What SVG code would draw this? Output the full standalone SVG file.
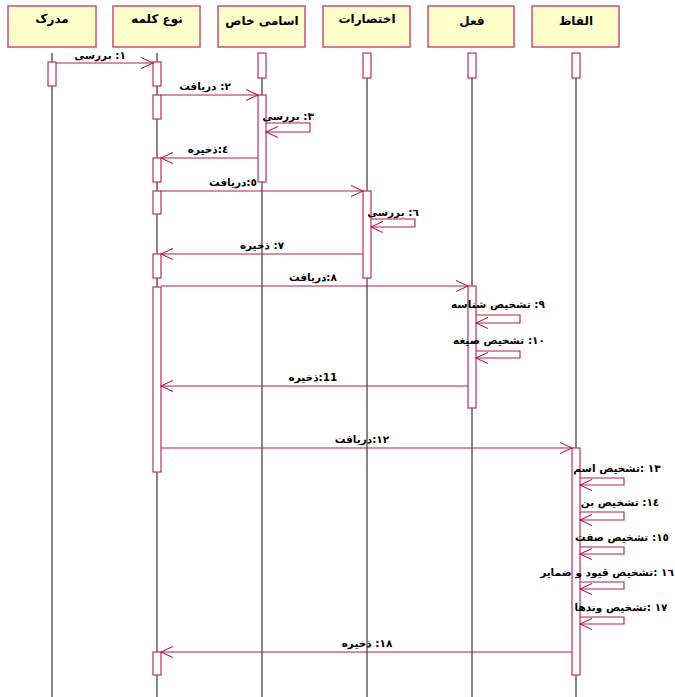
<svg xmlns="http://www.w3.org/2000/svg" width="675" height="697" viewBox="0 0 675 697">
<style>
.hdr{fill:#FFFFCC;stroke:#C8507A;stroke-width:1.5}
.act{fill:#FFFFFF;stroke:#B8305E;stroke-width:1.2}
.life{stroke:#111;stroke-width:1}
.msg{stroke:#B01E50;stroke-width:1.1;fill:none}
text{font-family:"DejaVu Sans",sans-serif;font-weight:bold;fill:#000;direction:rtl;unicode-bidi:embed;text-anchor:middle}
.ht{font-size:12px}
.lt{font-size:10.5px}
</style>
<defs>
<marker id="arr" markerUnits="userSpaceOnUse" markerWidth="14" markerHeight="12" refX="12" refY="6" orient="auto">
<path d="M0,0.5 L12,6 L0,11.5" fill="none" stroke="#B01E50" stroke-width="1.1"/>
</marker>
</defs>
<rect width="675" height="697" fill="#fff"/>
<g id="lifelines">
<line class="life" x1="52" y1="53" x2="52" y2="697"/>
<line class="life" x1="157" y1="53" x2="157" y2="697"/>
<line class="life" x1="262" y1="53" x2="262" y2="697"/>
<line class="life" x1="367" y1="53" x2="367" y2="697"/>
<line class="life" x1="472" y1="53" x2="472" y2="697"/>
<line class="life" x1="576" y1="53" x2="576" y2="697"/>
</g>
<g id="n-modrak">
<rect class="hdr" x="8" y="6" width="88" height="41"/>
<text class="ht" x="52" y="23">مدرک</text>
<rect class="act" x="48" y="62" width="8" height="24"/>
</g>
<g id="n-noe-kalame">
<rect class="hdr" x="113" y="6" width="87" height="41"/>
<text class="ht" x="157" y="23">نوع کلمه</text>
<rect class="act" x="153" y="62" width="8" height="24"/>
<rect class="act" x="153" y="95" width="8" height="24"/>
<rect class="act" x="153" y="158" width="8" height="24"/>
<rect class="act" x="153" y="191" width="8" height="23"/>
<rect class="act" x="153" y="254" width="8" height="24"/>
<rect class="act" x="153" y="287" width="8" height="185"/>
<rect class="act" x="153" y="652" width="8" height="23"/>
</g>
<g id="n-asami-khas">
<rect class="hdr" x="218" y="6" width="87" height="41"/>
<text class="ht" x="262" y="25">اسامی خاص</text>
<rect class="act" x="258" y="53" width="8" height="25"/>
<rect class="act" x="258" y="95" width="8" height="87"/>
</g>
<g id="n-ekhtesarat">
<rect class="hdr" x="323" y="6" width="87" height="41"/>
<text class="ht" x="367" y="23">اختصارات</text>
<rect class="act" x="363" y="53" width="8" height="25"/>
<rect class="act" x="363" y="191" width="8" height="87"/>
</g>
<g id="n-feel">
<rect class="hdr" x="428" y="6" width="86" height="41"/>
<text class="ht" x="472" y="25">فعل</text>
<rect class="act" x="468" y="53" width="8" height="25"/>
<rect class="act" x="468" y="286" width="8" height="122"/>
</g>
<g id="n-alfaz">
<rect class="hdr" x="532" y="6" width="87" height="41"/>
<text class="ht" x="576" y="25">الفاظ</text>
<rect class="act" x="572" y="53" width="8" height="25"/>
<rect class="act" x="572" y="448" width="8" height="227"/>
</g>
<g id="connectors">
<line class="msg" x1="56" y1="63" x2="153" y2="63" marker-end="url(#arr)"/>
<line class="msg" x1="161" y1="95" x2="258" y2="95" marker-end="url(#arr)"/>
<path class="msg" d="M266,123 H310 V132 H266" marker-end="url(#arr)"/>
<line class="msg" x1="258" y1="158" x2="161" y2="158" marker-end="url(#arr)"/>
<line class="msg" x1="161" y1="191" x2="363" y2="191" marker-end="url(#arr)"/>
<path class="msg" d="M371,219 H415 V227 H371" marker-end="url(#arr)"/>
<line class="msg" x1="363" y1="254" x2="161" y2="254" marker-end="url(#arr)"/>
<line class="msg" x1="161" y1="286" x2="468" y2="286" marker-end="url(#arr)"/>
<path class="msg" d="M476,315 H520 V323 H476" marker-end="url(#arr)"/>
<path class="msg" d="M476,351 H520 V358 H476" marker-end="url(#arr)"/>
<line class="msg" x1="468" y1="386" x2="161" y2="386" marker-end="url(#arr)"/>
<line class="msg" x1="161" y1="448" x2="572" y2="448" marker-end="url(#arr)"/>
<path class="msg" d="M580,478 H624 V485 H580" marker-end="url(#arr)"/>
<path class="msg" d="M580,512 H624 V520 H580" marker-end="url(#arr)"/>
<path class="msg" d="M580,547 H624 V554 H580" marker-end="url(#arr)"/>
<path class="msg" d="M580,582 H624 V589 H580" marker-end="url(#arr)"/>
<path class="msg" d="M580,617 H624 V624 H580" marker-end="url(#arr)"/>
<line class="msg" x1="572" y1="652" x2="161" y2="652" marker-end="url(#arr)"/>
</g>
<g id="labels">
<text class="lt" x="100" y="59">١: بررسی</text>
<text class="lt" x="205" y="90">٢: دریافت</text>
<text class="lt" x="288" y="120">٣: بررسی</text>
<text class="lt" x="208" y="153">٤:ذخیره</text>
<text class="lt" x="233" y="186">٥:دریافت</text>
<text class="lt" x="393" y="216">٦: بررسی</text>
<text class="lt" x="262" y="249">٧: ذخیره</text>
<text class="lt" x="313" y="281">٨:دریافت</text>
<text class="lt" x="498" y="308">٩: تشخیص شناسه</text>
<text class="lt" x="499" y="344">١٠: تشخیص صیغه</text>
<text class="lt" x="313" y="381">11:ذخیره</text>
<text class="lt" x="362" y="443">١٢:دریافت</text>
<text class="lt" x="617" y="472">١٣ :تشخیص اسم</text>
<text class="lt" x="620" y="506">١٤: تشخیص بن</text>
<text class="lt" x="622" y="541">١٥: تشخیص صفت</text>
<text class="lt" x="607" y="576">١٦ :تشخیص قیود و ضمایر</text>
<text class="lt" x="621" y="611">١٧ :تشخیص وندها</text>
<text class="lt" x="367" y="647">١٨: ذخیره</text>
</g>
</svg>
